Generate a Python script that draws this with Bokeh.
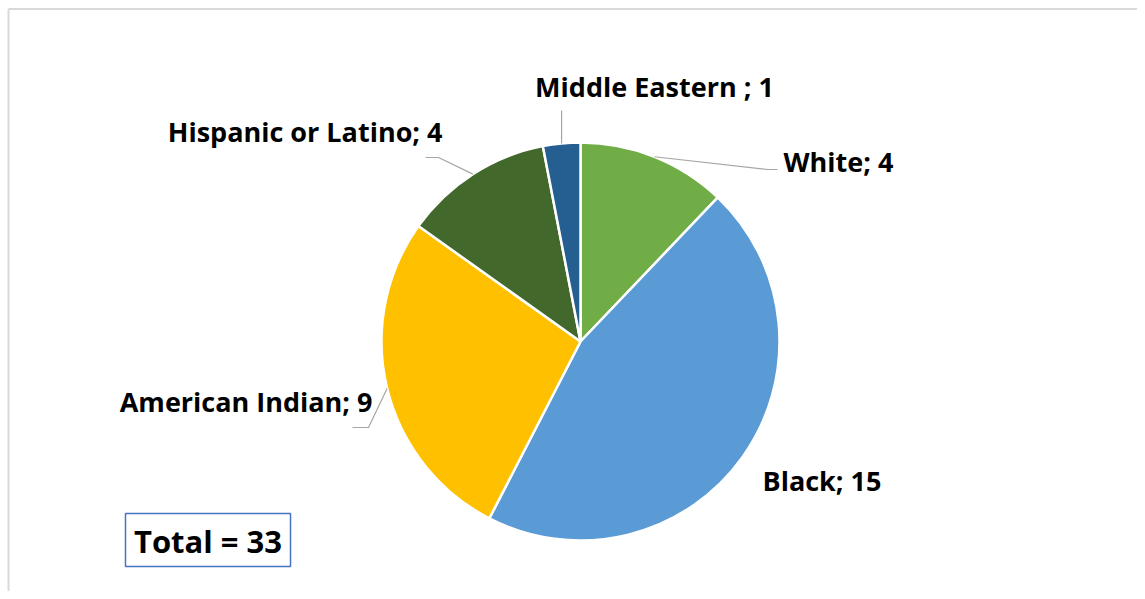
import math
from bokeh.plotting import figure
from bokeh.models import Range1d
from bokeh.core.properties import value
from bokeh.embed import file_html
from bokeh.resources import INLINE

# ---- data ----
categories = ["White", "Black", "American Indian", "Hispanic or Latino", "Middle Eastern "]
counts = [4, 15, 9, 4, 1]
colors = ["#70AD47", "#5B9BD5", "#FFC000", "#43682B", "#255E91"]

W, H = 1137, 591
FONT = "Open Sans"

p = figure(width=W, height=H, output_backend="svg", toolbar_location=None,
           x_range=Range1d(0, W), y_range=Range1d(0, H),
           x_axis_type=None, y_axis_type=None, min_border=0)
p.grid.visible = False
p.outline_line_color = None
p.background_fill_color = "white"

def Y(img_y):
    return H - img_y

# chart border (left and top only visible)
p.line([8, 8], [Y(H), Y(8.5)], line_color="#d9d9d9", line_width=2)
p.line([8, W], [Y(8.5), Y(8.5)], line_color="#d9d9d9", line_width=2)

# pie geometry (layout)
cx, cy, R = 580, Y(341), 199
total = sum(counts)
starts, ends, mids = [], [], []
cum = 0
for c in counts:
    a0 = math.pi / 2 - 2 * math.pi * cum / total
    a1 = math.pi / 2 - 2 * math.pi * (cum + c) / total
    starts.append(a0); ends.append(a1); mids.append((a0 + a1) / 2)
    cum += c

p.wedge(x=[cx] * len(counts), y=[cy] * len(counts), radius=R,
        start_angle=starts, end_angle=ends, direction="clock",
        fill_color=colors, line_color="white", line_width=2.5)

# leader lines: (elbow, end) in image coords, None = vertical from slice
leaders = {
    "White": ((767, 169), (777, 169)),
    "American Indian": ((368, 427), (352, 427)),
    "Hispanic or Latino": ((438, 157), (425, 157)),
    "Middle Eastern ": ((None, 110), (None, 110)),
}
for cat, m in zip(categories, mids):
    if cat not in leaders:
        continue
    sx = cx + R * math.cos(m)
    sy = cy + R * math.sin(m)
    (ex, ey), (tx, ty) = leaders[cat]
    ex = sx if ex is None else ex
    tx = sx if tx is None else tx
    p.line([sx, ex, tx], [sy, Y(ey), Y(ty)], line_color="#a6a6a6", line_width=1.2)

# data labels: (x, y, align) in image coords
label_pos = {
    "White": (783, 161, "left"),
    "Black": (762, 480, "left"),
    "American Indian": (372, 401, "right"),
    "Hispanic or Latino": (442, 131, "right"),
    "Middle Eastern ": (654, 86, "center"),
}
for cat, c in zip(categories, counts):
    x, y, al = label_pos[cat]
    p.text(x=[x], y=[Y(y)], text=[f"{cat}; {c}"], text_font=value(FONT),
           text_font_style="bold", text_font_size="27px", text_color="black",
           text_align=al, text_baseline="middle")

# total box
p.quad(left=[125], right=[290], top=[Y(513)], bottom=[Y(566)],
       fill_color="white", line_color="#4472C4", line_width=1.5)
p.text(x=[207.5], y=[Y(540)], text=[f"Total = {total}"], text_font=value(FONT),
       text_font_style="bold", text_font_size="31px", text_color="black",
       text_align="center", text_baseline="middle")

open("out.html", "w").write(file_html(p, INLINE))
